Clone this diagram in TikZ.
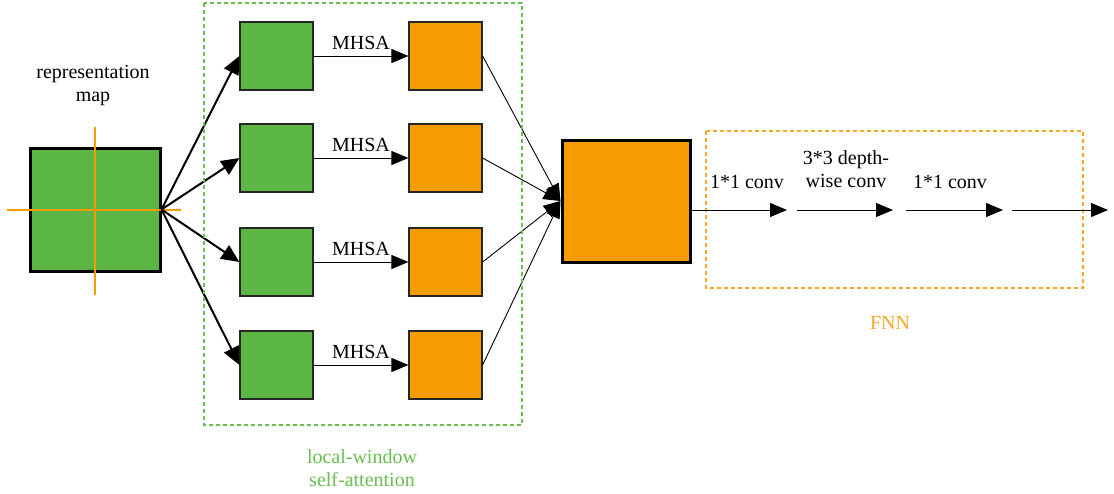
\documentclass[tikz,border=0pt]{standalone}
\usepackage{fontspec}
\setmainfont{Liberation Serif}
\usetikzlibrary{arrows.meta,positioning}

\definecolor{mapgreen}{RGB}{92,182,70}
\definecolor{maporange}{RGB}{245,157,0}
\definecolor{dashgreen}{RGB}{104,190,80}
\definecolor{dashorange}{RGB}{245,168,40}

\tikzset{
  patch/.style={draw=black!85, line width=1.2pt, minimum width=73pt,
    minimum height=68pt, inner sep=0pt},
  bigpatch/.style={draw=black, line width=3pt, inner sep=0pt},
  bigtip/.style={-{Triangle[length=18pt,width=16pt]}},
  smalltip/.style={-{Triangle[length=17pt,width=14pt]}},
  lbl/.style={font=\fontsize{20}{23}\selectfont, align=center, inner sep=0pt},
  window/.style={dash pattern=on 4pt off 3pt, line width=1.5pt}
}

\begin{document}
\begin{tikzpicture}[x=1pt,y=-1pt]
  \useasboundingbox (0,0) rectangle (1114,493);

  %% Input representation map with its window split
  \node[bigpatch, fill=mapgreen, minimum width=130pt, minimum height=123pt]
    (map) at (95,209.5) {};
  \draw[maporange, line width=1.8pt] (7,210) -- (181,210);
  \draw[maporange, line width=1.8pt] (95,127) -- (95,295);
  \node[lbl] (maplbl) at (93,86) {representation\\map};

  %% Local windows: green patch -> MHSA -> orange patch
  \foreach \i/\y in {1/56, 2/158, 3/262, 4/365} {
    \node[patch, fill=mapgreen] (g\i) at (276.5,\y) {};
    \node[patch, fill=maporange] (o\i) at (445.5,\y) {};
    \draw[line width=0.9pt, smalltip] (g\i.east) -- (o\i.west)
      node[lbl, midway, above=6pt] (m\i) {MHSA};
    \draw[line width=2pt, bigtip] (map.east) -- (g\i.west);
  }

  %% Merged output
  \node[bigpatch, fill=maporange, minimum width=128pt, minimum height=122pt]
    (merge) at (626,201) {};
  \foreach \i in {1,...,4}
    \draw[line width=0.9pt, smalltip] (o\i.east) -- (merge.west);

  %% Window borders
  \draw[window, dashgreen] (204,3) rectangle (522,425);
  \node[lbl, text=dashgreen] (attn) at (362,468) {local-window\\self-attention};
  \draw[window, dashorange] (706,131) rectangle (1083,288);
  \node[lbl, text=dashorange] (fnn) at (890,323) {FNN};

  %% Feed-forward chain
  \coordinate (c1) at (787,210);
  \coordinate (s2) at (797,210);
  \coordinate (c2) at (893,210);
  \coordinate (s3) at (906,210);
  \coordinate (c3) at (1003,210);
  \coordinate (s4) at (1012,210);
  \coordinate (c4) at (1108,210);
  \draw[line width=0.9pt, smalltip] (merge.east |- c1) -- (c1);
  \draw[line width=0.9pt, smalltip] (s2) -- (c2);
  \draw[line width=0.9pt, smalltip] (s3) -- (c3);
  \draw[line width=0.9pt, smalltip] (s4) -- (c4);
  \node[lbl] (conv1) at (747,182) {1*1 conv};
  \node[lbl] (conv2) at (846,169) {3*3 depth-\\wise conv};
  \node[lbl] (conv3) at (950,182) {1*1 conv};
\end{tikzpicture}
\end{document}
